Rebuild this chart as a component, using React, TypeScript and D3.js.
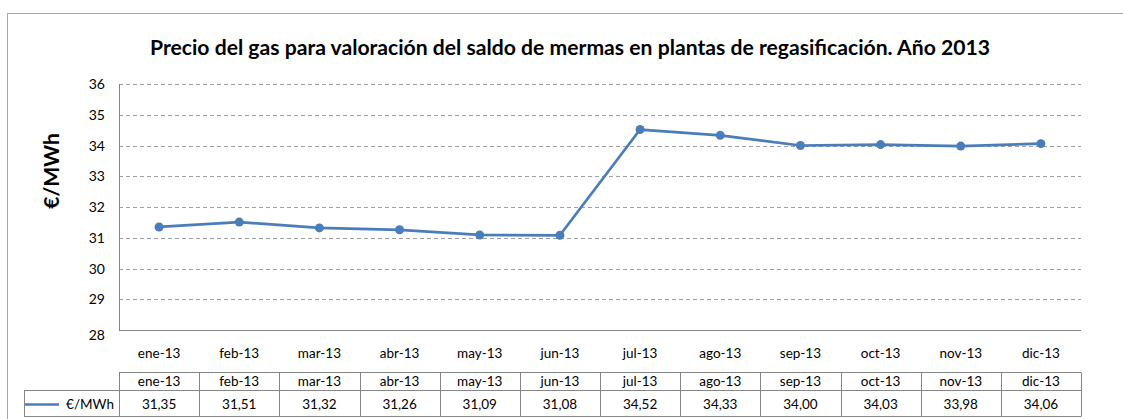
import React, { useEffect, useRef } from 'react';
import * as d3 from 'd3';

// datos del gráfico
const months = ['ene-13', 'feb-13', 'mar-13', 'abr-13', 'may-13', 'jun-13', 'jul-13', 'ago-13', 'sep-13', 'oct-13', 'nov-13', 'dic-13'];
const prices = [31.35, 31.51, 31.32, 31.26, 31.09, 31.08, 34.52, 34.33, 34.0, 34.03, 33.98, 34.06];
const yTicks = [28, 29, 30, 31, 32, 33, 34, 35, 36];
const seriesName = '€/MWh';
const title = 'Precio del gas para valoración del saldo de mermas en plantas de regasificación. Año 2013';

const FONT = 'Lato, "Open Sans", sans-serif';
const BLUE = '#4a7ebb';

const App = () => {
    const ref = useRef<SVGSVGElement>(null);

    useEffect(() => {
        const svg = d3.select(ref.current);
        svg.selectAll('*').remove();

        const left = 119, right = 1081, top = 84, bottom = 330;

        const x = d3.scaleBand().domain(months).range([left, right]);
        const y = d3.scaleLinear().domain([28, 36]).range([bottom, top]);
        const fmt = (v: number) => v.toFixed(2).replace('.', ',');

        // marco exterior
        svg.append('rect')
            .attr('x', 7.5).attr('y', 13.5)
            .attr('width', 1130).attr('height', 420)
            .attr('fill', '#fff').attr('stroke', '#a6a6a6');

        // título
        svg.append('text')
            .attr('x', 570).attr('y', 55)
            .attr('text-anchor', 'middle')
            .attr('font-family', FONT).attr('font-weight', 'bold')
            .attr('font-size', 20).attr('fill', '#000')
            .attr('textLength', 840).attr('lengthAdjust', 'spacingAndGlyphs')
            .text(title);

        // rejilla
        svg.append('g').selectAll('line')
            .data(yTicks.filter(t => t > 28))
            .enter().append('line')
            .attr('x1', left).attr('x2', right)
            .attr('y1', d => Math.round(y(d)) + 0.5)
            .attr('y2', d => Math.round(y(d)) + 0.5)
            .attr('stroke', '#a0a0a0').attr('stroke-dasharray', '4,3');

        // ejes
        svg.append('line')
            .attr('x1', left + 0.5).attr('x2', left + 0.5)
            .attr('y1', top).attr('y2', bottom)
            .attr('stroke', '#868686');
        svg.append('line')
            .attr('x1', left).attr('x2', right)
            .attr('y1', bottom + 0.5).attr('y2', bottom + 0.5)
            .attr('stroke', '#868686');

        // etiquetas eje y
        svg.append('g').selectAll('text')
            .data(yTicks)
            .enter().append('text')
            .attr('x', 105).attr('y', d => y(d) + (d === 28 ? 10 : 5))
            .attr('text-anchor', 'end')
            .attr('font-family', FONT).attr('font-size', 14)
            .text(d => d);

        svg.append('text')
            .attr('transform', 'translate(59,171) rotate(-90)')
            .attr('text-anchor', 'middle')
            .attr('font-family', FONT).attr('font-weight', 'bold')
            .attr('font-size', 21)
            .text(seriesName);

        // etiquetas eje x
        svg.append('g').selectAll('text')
            .data(months)
            .enter().append('text')
            .attr('x', d => (x(d) as number) + x.bandwidth() / 2)
            .attr('y', 358)
            .attr('text-anchor', 'middle')
            .attr('font-family', FONT).attr('font-size', 13.5)
            .text(d => d);

        // línea y marcadores
        const line = d3.line<number>()
            .x((d, i) => (x(months[i]) as number) + x.bandwidth() / 2)
            .y(d => y(d));
        svg.append('path')
            .datum(prices)
            .attr('d', line)
            .attr('fill', 'none').attr('stroke', BLUE)
            .attr('stroke-width', 2.75).attr('stroke-linejoin', 'round');
        svg.append('g').selectAll('circle')
            .data(prices)
            .enter().append('circle')
            .attr('cx', (d, i) => (x(months[i]) as number) + x.bandwidth() / 2)
            .attr('cy', d => y(d))
            .attr('r', 4.5)
            .attr('fill', BLUE);

        // tabla de datos
        const t0 = 372.5, t1 = 390.5, t2 = 416.5;
        const grid = svg.append('g').attr('stroke', '#868686').attr('fill', 'none');
        grid.append('line').attr('x1', left).attr('x2', right).attr('y1', t0).attr('y2', t0);
        grid.append('line').attr('x1', 24).attr('x2', right).attr('y1', t1).attr('y2', t1);
        grid.append('line').attr('x1', 24).attr('x2', right).attr('y1', t2).attr('y2', t2);
        grid.append('line').attr('x1', 24.5).attr('x2', 24.5).attr('y1', t1).attr('y2', t2);
        grid.selectAll('.col')
            .data([...months.map(m => x(m) as number), right])
            .enter().append('line')
            .attr('class', 'col')
            .attr('x1', d => Math.round(d) + 0.5).attr('x2', d => Math.round(d) + 0.5)
            .attr('y1', t0).attr('y2', t2);

        svg.append('g').selectAll('text')
            .data(months)
            .enter().append('text')
            .attr('x', d => (x(d) as number) + x.bandwidth() / 2)
            .attr('y', 386)
            .attr('text-anchor', 'middle')
            .attr('font-family', FONT).attr('font-size', 13.5)
            .text(d => d);

        svg.append('g').selectAll('text')
            .data(prices)
            .enter().append('text')
            .attr('x', (d, i) => (x(months[i]) as number) + x.bandwidth() / 2)
            .attr('y', 409)
            .attr('text-anchor', 'middle')
            .attr('font-family', FONT).attr('font-size', 13.5)
            .text(d => fmt(d));

        // leyenda
        svg.append('line')
            .attr('x1', 25).attr('x2', 59)
            .attr('y1', 404.5).attr('y2', 404.5)
            .attr('stroke', BLUE).attr('stroke-width', 2.5);
        svg.append('text')
            .attr('x', 114).attr('y', 409)
            .attr('text-anchor', 'end')
            .attr('font-family', FONT).attr('font-size', 13.5)
            .text(seriesName);
    }, []);

    return (
        <svg ref={ref} width={1123} height={419}
             style={{ position: 'absolute', left: 0, top: 0, display: 'block' }} />
    );
};

export default App;
